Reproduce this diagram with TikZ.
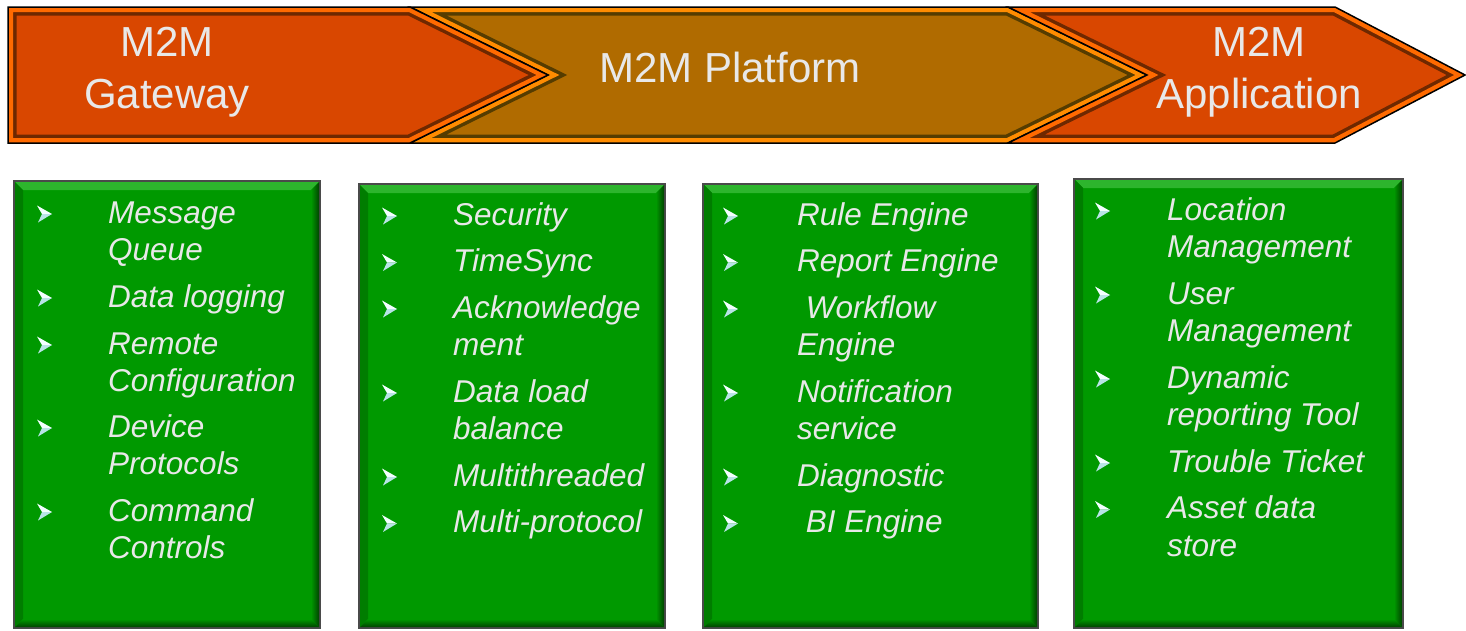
\documentclass[tikz,border=0pt]{standalone}
\usepackage{fontspec}
\setmainfont{Liberation Sans}
\begin{document}
\begin{tikzpicture}[x=1pt,y=-1pt,
  bannertxt/.style={inner sep=0pt, text=txtgray, font=\fontsize{42}{52}\selectfont},
  itemtxt/.style={inner sep=0pt, anchor=base west, text=txtgray, font=\fontsize{31.5}{37.5}\selectfont\itshape},
  bulletmark/.pic={
    \fill[bulhi] (0,-8.5) -- (15,0) -- (5,0) -- cycle;
    \fill[bullo] (5,0) -- (15,0) -- (1,8.5) -- cycle;
  }]
\definecolor{txtgray}{HTML}{E8E8E8}
\definecolor{gwfill}{HTML}{D94700}
\definecolor{gwlight}{HTML}{FF6A00}
\definecolor{gwdark}{HTML}{6E2800}
\definecolor{pffill}{HTML}{B06B00}
\definecolor{pflight}{HTML}{FF8C00}
\definecolor{pfdark}{HTML}{553C00}
\definecolor{grmain}{HTML}{009900}
\definecolor{grtop}{HTML}{2DB52D}
\definecolor{grleft}{HTML}{007D00}
\definecolor{grdeep}{HTML}{004400}
\definecolor{grborder}{HTML}{4A4A4A}
\definecolor{bulhi}{HTML}{F2FFFF}
\definecolor{bullo}{HTML}{B8E4E6}
\fill[white] (0,0) rectangle (1466,630);
\useasboundingbox (0,0) rectangle (1466,630);
% ---- banner arrows ----
\def\gwpath{(8,7) -- (410,7) -- (548,75) -- (410,143) -- (8,143) -- cycle}
\def\pfpath{(410,7) -- (1008,7) -- (1147,75) -- (1008,143) -- (410,143) -- (548,75) -- cycle}
\def\appath{(1008,7) -- (1335,7) -- (1465,75) -- (1335,143) -- (1008,143) -- (1147,75) -- cycle}
\newcommand\bevelshape[4]{%
  \begin{scope}
    \clip #1;
    \fill[#2] #1;
    \draw[#4, line width=17pt, line join=miter] #1;
    \draw[#3, line width=10pt, line join=miter] #1;
  \end{scope}
  \draw[black, line width=1.5pt, line join=miter] #1;}
\bevelshape{\pfpath}{pffill}{pflight}{pfdark}
\bevelshape{\gwpath}{gwfill}{gwlight}{gwdark}
\bevelshape{\appath}{gwfill}{gwlight}{gwdark}
\node[bannertxt, anchor=base] (gw) at (167,56) {\begin{tabular}[t]{@{}c@{}}M2M\\Gateway\end{tabular}};
\node[bannertxt, anchor=base] (pf) at (730,82) {M2M Platform};
\node[bannertxt, anchor=base] (ap) at (1259,56) {\begin{tabular}[t]{@{}c@{}}M2M\\Application\end{tabular}};
% ---- green boxes ----
\newcommand\gbox[4]{%
  \fill[grborder] (#1,#2) rectangle (#3,#4);
  \fill[grmain] (#1+2,#2+2) rectangle (#3-2,#4-2);
  \fill[grtop] (#1+2,#2+2) -- (#3-2,#2+2) -- (#3-10,#2+10) -- (#1+10,#2+10) -- cycle;
  \fill[grleft] (#1+2,#2+2) -- (#1+10,#2+10) -- (#1+10,#4-10) -- (#1+2,#4-2) -- cycle;
  \shade[left color=grmain, right color=grdeep] (#3-2,#2+2) -- (#3-10,#2+10) -- (#3-10,#4-10) -- (#3-2,#4-2) -- cycle;
  \shade[top color=grmain, bottom color=grdeep] (#1+2,#4-2) -- (#1+10,#4-10) -- (#3-10,#4-10) -- (#3-2,#4-2) -- cycle;}
\gbox{13}{180}{321}{629}
\gbox{358}{183}{666}{629}
\gbox{702}{183}{1039}{629}
\gbox{1073}{178}{1404}{629}
\newcommand\lns[1]{\begin{tabular}[t]{@{}l@{}}#1\end{tabular}}
% box 1
\node[itemtxt] (g1) at (108,223) {\lns{Message\\Queue}};
\node[itemtxt] (g2) at (108,307) {\lns{Data logging}};
\node[itemtxt] (g3) at (108,354) {\lns{Remote\\Configuration}};
\node[itemtxt] (g4) at (108,437) {\lns{Device\\Protocols}};
\node[itemtxt] (g5) at (108,521) {\lns{Command\\Controls}};
\foreach \y in {223,307,354,437,521} \pic at (37,\y-9) {bulletmark};
% box 2
\node[itemtxt] (p1) at (453,225) {\lns{Security}};
\node[itemtxt] (p2) at (453,271.5) {\lns{TimeSync}};
\node[itemtxt] (p3) at (453,318) {\lns{Acknowledge\\ment}};
\node[itemtxt] (p4) at (453,402) {\lns{Data load\\balance}};
\node[itemtxt] (p5) at (453,486) {\lns{Multithreaded}};
\node[itemtxt] (p6) at (453,532.5) {\lns{Multi-protocol}};
\foreach \y in {225,271.5,318,402,486,532.5} \pic at (382,\y-9) {bulletmark};
% box 3
\node[itemtxt] (r1) at (797,225) {\lns{Rule Engine}};
\node[itemtxt] (r2) at (797,271.5) {\lns{Report Engine}};
\node[itemtxt] (r3) at (797,318) {\lns{\ Workflow\\Engine}};
\node[itemtxt] (r4) at (797,402) {\lns{Notification\\service}};
\node[itemtxt] (r5) at (797,486) {\lns{Diagnostic}};
\node[itemtxt] (r6) at (797,532.5) {\lns{\ BI Engine}};
\foreach \y in {225,271.5,318,402,486,532.5} \pic at (723,\y-9) {bulletmark};
% box 4
\node[itemtxt] (a1) at (1167,220) {\lns{Location\\Management}};
\node[itemtxt] (a2) at (1167,304) {\lns{User\\Management}};
\node[itemtxt] (a3) at (1167,388) {\lns{Dynamic\\reporting Tool}};
\node[itemtxt] (a4) at (1167,472) {\lns{Trouble Ticket}};
\node[itemtxt] (a5) at (1167,518.5) {\lns{Asset data\\store}};
\foreach \y in {220,304,388,472,518.5} \pic at (1095,\y-9) {bulletmark};
\end{tikzpicture}
\end{document}
